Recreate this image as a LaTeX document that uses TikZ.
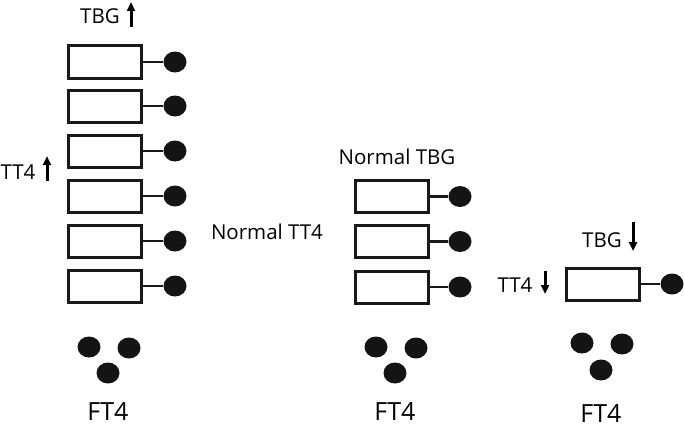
\documentclass[tikz,border=0pt]{standalone}
\usepackage{fontspec}
\setmainfont{Open Sans}
\usetikzlibrary{arrows.meta,shapes.geometric}
\begin{document}
\begin{tikzpicture}[x=1pt,y=-1pt,
  recbox/.style={draw=black!90,line width=3pt,minimum width=73pt,minimum height=32pt,inner sep=0pt,fill=white},
  dot/.style={ellipse,fill=black!92,minimum width=23pt,minimum height=21pt,inner sep=0pt},
  link/.style={line width=2.5pt,black!90},
  lbl/.style={inner sep=0pt,anchor=base,font=\fontsize{20.5}{24}\selectfont},
  ftlbl/.style={inner sep=0pt,anchor=base,font=\fontsize{25}{30}\selectfont},
  chg/.style={line width=3pt,-{Triangle[width=8pt,length=9pt]}}
]
\useasboundingbox (0,0) rectangle (685,428);
% left column
\foreach \i/\y in {1/62,2/106,3/151,4/196,5/241,6/286}{
  \node[recbox] (L\i) at (105,\y) {};
  \node[dot] (Ld\i) at (175,\y) {};
  \draw[link] (L\i.east) -- (Ld\i.west);
}
\node[lbl] (tbgL) at (100,24) {TBG};
\coordinate (tbgLa) at (131,27);
\coordinate (tbgLb) at (131,2);
\draw[chg] (tbgLa) -- (tbgLb);
\node[lbl] (tt4L) at (18,179) {TT4};
\coordinate (tt4La) at (47,181);
\coordinate (tt4Lb) at (47,156);
\draw[chg] (tt4La) -- (tt4Lb);
% middle column
\foreach \i/\y in {1/196.5,2/241.5,3/287}{
  \node[recbox] (M\i) at (391.5,\y) {};
  \node[dot] (Md\i) at (460,\y) {};
  \draw[link] (M\i.east) -- (Md\i.west);
}
\node[lbl] (tbgM) at (397,164) {Normal TBG};
\node[lbl] (tt4M) at (267,239) {Normal TT4};
% right column
\node[recbox] (R1) at (603,284) {};
\node[dot] (Rd1) at (672,284) {};
\draw[link] (R1.east) -- (Rd1.west);
\node[lbl] (tbgR) at (602,247) {TBG};
\coordinate (tbgRa) at (633,222);
\coordinate (tbgRb) at (633,251);
\draw[chg] (tbgRa) -- (tbgRb);
\node[lbl] (tt4R) at (515,292) {TT4};
\coordinate (tt4Ra) at (545,271);
\coordinate (tt4Rb) at (545,294);
\draw[chg] (tt4Ra) -- (tt4Rb);
% FT4 groups
\foreach \g/\ax/\ay/\bx/\by/\cx/\cy/\tx/\ty in {a/89/347/129/348/108/373/108/420, b/376/347/416/348/395/373/395/420, c/582/343/622/344/601/370/601/422}{
  \node[dot] (F\g1) at (\ax,\ay) {};
  \node[dot] (F\g2) at (\bx,\by) {};
  \node[dot] (F\g3) at (\cx,\cy) {};
  \node[ftlbl] (FT\g) at (\tx,\ty) {FT4};
}
\end{tikzpicture}
\end{document}
